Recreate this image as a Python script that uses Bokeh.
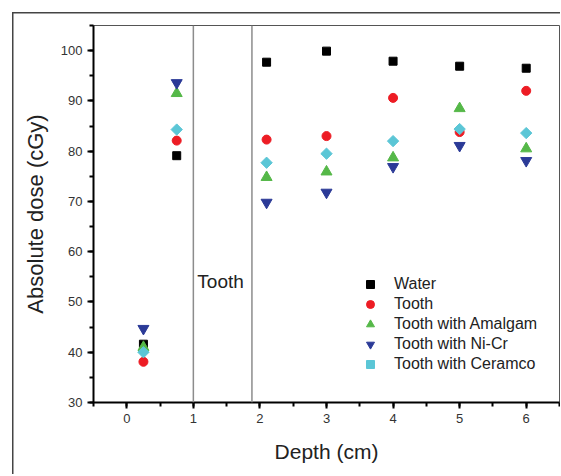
import math
from bokeh.plotting import figure
from bokeh.models import Range1d, SingleIntervalTicker, Span, Label
from bokeh.embed import file_html
from bokeh.resources import INLINE

depth = [0.25, 0.75, 2.1, 3, 4, 5, 6]
water = [41.6, 79.1, 97.7, 99.9, 97.9, 96.9, 96.5]
tooth = [38.1, 82.1, 82.3, 83.0, 90.6, 83.8, 92.0]
amalgam = [41.0, 91.5, 74.8, 75.9, 78.7, 88.5, 80.5]
nicr = [44.7, 93.6, 69.8, 71.8, 76.9, 81.1, 78.1]
ceramco = [40.0, 84.3, 77.7, 79.5, 82.0, 84.4, 83.6]
tooth_bounds = [1.0, 1.88]

FONT = "Liberation Sans"

p = figure(width=560, height=474, output_backend="svg", toolbar_location=None,
           x_range=Range1d(-0.5, 6.5), y_range=Range1d(30, 105),
           min_border_left=93, min_border_right=1, min_border_top=25, min_border_bottom=72)
p.grid.visible = False
p.outline_line_color = "#555555"
p.outline_line_width = 1
p.border_fill_alpha = 0
p.background_fill_color = "white"
p.styles = {
    "background-color": "white",
    "background-image": "linear-gradient(#444,#444), linear-gradient(#444,#444)",
    "background-size": "1.5px 100%, 100% 1.5px",
    "background-position": "12px 12px, 12px 12px",
    "background-repeat": "no-repeat",
}

for ax, tk in ((p.xaxis[0], SingleIntervalTicker(interval=1, num_minor_ticks=2)),
               (p.yaxis[0], SingleIntervalTicker(interval=10, num_minor_ticks=2))):
    ax.ticker = tk
    ax.axis_line_color = "black"
    ax.axis_line_width = 2
    ax.major_tick_line_color = "black"
    ax.major_tick_line_width = 2
    ax.minor_tick_line_color = "black"
    ax.minor_tick_line_width = 2
    ax.major_tick_in = 0
    ax.major_tick_out = 6
    ax.minor_tick_in = 0
    ax.minor_tick_out = 4
    ax.major_label_text_font = FONT
    ax.major_label_text_font_size = "13px"
    ax.major_label_text_color = "#333333"
    ax.major_label_standoff = 5
    ax.axis_label_text_font = FONT
    ax.axis_label_text_font_style = "normal"
    ax.axis_label_text_color = "#222222"

p.xaxis.axis_label = "Depth (cm)"
p.xaxis.axis_label_text_font_size = "21px"
p.xaxis.axis_label_standoff = 14
p.yaxis.axis_label = "Absolute dose (cGy)"
p.yaxis.axis_label_text_font_size = "22px"
p.yaxis.axis_label_standoff = 10

for b in tooth_bounds:
    p.add_layout(Span(location=b, dimension="height", line_color="#8c8c8c", line_width=1.5))

p.add_layout(Label(x=1.06, y=54, text="Tooth", text_baseline="middle",
                   text_font=FONT, text_font_size="19px", text_color="#222222"))

p.scatter(depth, water, marker="square", size=8, color="black", legend_label="Water")
p.scatter(depth, tooth, marker="circle", size=9, color="#ed1c24", legend_label="Tooth")
p.scatter(depth, amalgam, marker="triangle", size=11, color="#55b848", legend_label="Tooth with Amalgam")
p.scatter(depth, nicr, marker="inverted_triangle", size=11, color="#2b3a97", legend_label="Tooth with Ni-Cr")
p.scatter(depth, ceramco, marker="square", angle=math.pi / 4, size=8, color="#5bc6d6",
          legend_label="Tooth with Ceramco")

lg = p.legend[0]
lg.location = (265, 28)
lg.border_line_color = None
lg.background_fill_alpha = 0
lg.padding = 0
lg.margin = 0
lg.spacing = 0
lg.glyph_width = 24
lg.glyph_height = 20
lg.label_height = 20
lg.label_standoff = 12
lg.label_text_font = FONT
lg.label_text_font_size = "16px"
lg.label_text_color = "#222222"

open("out.html", "w").write(file_html(p, INLINE))
